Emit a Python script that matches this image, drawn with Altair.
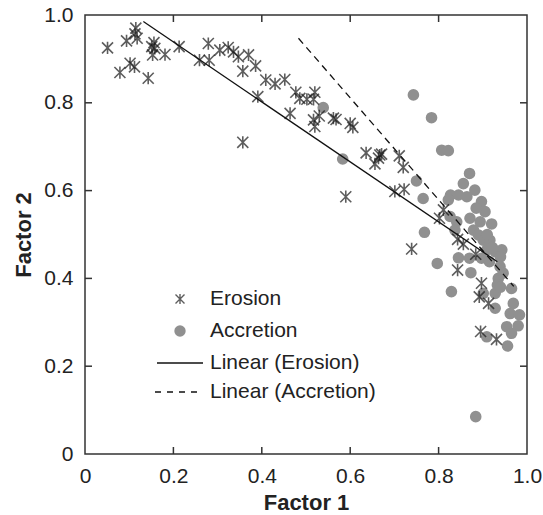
import altair as alt
import pandas as pd

erosion_x = [0.051, 0.079, 0.094, 0.102, 0.112, 0.113, 0.115, 0.118, 0.143, 0.151, 0.156, 0.153, 0.158,
             0.181, 0.213, 0.259, 0.279, 0.281, 0.305, 0.324, 0.336, 0.347, 0.357, 0.370, 0.386, 0.409,
             0.430, 0.452, 0.391, 0.357, 0.464, 0.477, 0.486, 0.502, 0.517, 0.520, 0.517, 0.520, 0.530,
             0.562, 0.568, 0.600, 0.606, 0.636, 0.656, 0.664, 0.667, 0.671, 0.711, 0.720, 0.590, 0.701,
             0.722, 0.811, 0.802, 0.843, 0.856, 0.739, 0.884, 0.843, 0.897, 0.892, 0.913, 0.895, 0.931]
erosion_y = [0.925, 0.869, 0.941, 0.890, 0.882, 0.957, 0.970, 0.947, 0.856, 0.928, 0.937, 0.909, 0.924,
             0.910, 0.928, 0.897, 0.935, 0.897, 0.920, 0.926, 0.916, 0.905, 0.872, 0.909, 0.884, 0.852,
             0.843, 0.853, 0.814, 0.710, 0.776, 0.824, 0.810, 0.808, 0.808, 0.824, 0.761, 0.746, 0.770,
             0.765, 0.762, 0.753, 0.744, 0.686, 0.661, 0.674, 0.681, 0.683, 0.679, 0.653, 0.586, 0.598,
             0.603, 0.556, 0.537, 0.489, 0.478, 0.467, 0.455, 0.419, 0.389, 0.358, 0.343, 0.279, 0.261]

accretion_x = [0.539, 0.583, 0.743, 0.784, 0.807, 0.822, 0.750, 0.765, 0.768, 0.797, 0.829, 0.884,
               0.870, 0.856, 0.882, 0.827, 0.845, 0.864, 0.897, 0.822, 0.905, 0.871, 0.826, 0.841,
               0.894, 0.920, 0.837, 0.879, 0.890, 0.901, 0.916, 0.909, 0.928, 0.943, 0.845, 0.870,
               0.897, 0.915, 0.940, 0.873, 0.939, 0.935, 0.946, 0.965, 0.933, 0.901, 0.928, 0.940,
               0.969, 0.928, 0.962, 0.983, 0.980, 0.954, 0.965, 0.909, 0.956, 0.885, 0.910, 0.922]
accretion_y = [0.789, 0.672, 0.818, 0.766, 0.692, 0.691, 0.622, 0.582, 0.505, 0.434, 0.370, 0.085,
               0.639, 0.616, 0.601, 0.590, 0.590, 0.586, 0.575, 0.579, 0.552, 0.537, 0.541, 0.529,
               0.529, 0.524, 0.510, 0.510, 0.499, 0.487, 0.487, 0.465, 0.461, 0.465, 0.447, 0.446,
               0.446, 0.438, 0.449, 0.413, 0.427, 0.400, 0.412, 0.377, 0.385, 0.366, 0.366, 0.380,
               0.343, 0.332, 0.320, 0.317, 0.292, 0.290, 0.275, 0.267, 0.246, 0.560, 0.500, 0.470]

# trend lines (endpoints)
lin_erosion_x = [0.132, 0.933]
lin_erosion_y = [0.985, 0.438]
lin_accretion_x = [0.483, 0.970]
lin_accretion_y = [0.947, 0.382]

tick_values = [0.2, 0.4, 0.6, 0.8]
axis_values = [0, 0.2, 0.4, 0.6, 0.8, 1.0]
legend_labels = ["Erosion", "Accretion", "Linear (Erosion)", "Linear (Accretion)"]

W, H = 442, 439
FONT = "Liberation Sans"
GRAY = "#909090"
ASTER = "M-0.9,-0.9L0.9,0.9M-0.9,0.9L0.9,-0.9M0,-1L0,1"

ero = pd.DataFrame({"x": erosion_x, "y": erosion_y})
acc = pd.DataFrame({"x": accretion_x, "y": accretion_y})
le = pd.DataFrame({"x": lin_erosion_x, "y": lin_erosion_y})
la = pd.DataFrame({"x": lin_accretion_x, "y": lin_accretion_y})
ticks = pd.DataFrame({"v": tick_values})

lab_expr = "datum.value == 0 ? '0' : format(datum.value, '.1f')"
xs = alt.Scale(domain=[0, 1], nice=False, zero=False)
ys = alt.Scale(domain=[0, 1], nice=False, zero=False)
xax = alt.Axis(values=axis_values, labelExpr=lab_expr, title="Factor 1", grid=False, ticks=False,
               domain=False, labelFont=FONT, labelFontSize=21, labelColor="#222222", labelPadding=11,
               titleFont=FONT, titleFontSize=22, titleFontWeight="bold", titleColor="#222222",
               titlePadding=6, labelFlush=False)
yax = alt.Axis(values=axis_values, labelExpr=lab_expr, title="Factor 2", grid=False, ticks=False,
               domain=False, labelFont=FONT, labelFontSize=21, labelColor="#222222", labelPadding=12,
               titleFont=FONT, titleFontSize=22, titleFontWeight="bold", titleColor="#222222",
               titlePadding=8, labelFlush=False)

base_acc = alt.Chart(acc).mark_point(shape="circle", filled=True, size=135, color=GRAY, opacity=1).encode(
    x=alt.X("x:Q", scale=xs, axis=xax), y=alt.Y("y:Q", scale=ys, axis=yax))
pts_ero = alt.Chart(ero).mark_point(shape=ASTER, size=150, color="#1a1a1a", strokeWidth=1.6, filled=False).encode(
    x=alt.X("x:Q", scale=xs), y=alt.Y("y:Q", scale=ys))
line_e = alt.Chart(le).mark_line(color="#111111", strokeWidth=1.3).encode(
    x=alt.X("x:Q", scale=xs), y=alt.Y("y:Q", scale=ys))
line_a = alt.Chart(la).mark_line(color="#111111", strokeWidth=1.3, strokeDash=[7, 5]).encode(
    x=alt.X("x:Q", scale=xs), y=alt.Y("y:Q", scale=ys))

tk = alt.Chart(ticks)
t_bottom = tk.mark_rule(color="#333333", strokeWidth=1.5).encode(x=alt.X("v:Q", scale=xs), y=alt.value(H), y2=alt.value(H - 7))
t_top = tk.mark_rule(color="#333333", strokeWidth=1.5).encode(x=alt.X("v:Q", scale=xs), y=alt.value(0), y2=alt.value(7))
t_left = tk.mark_rule(color="#333333", strokeWidth=1.5).encode(y=alt.Y("v:Q", scale=ys), x=alt.value(0), x2=alt.value(7))
t_right = tk.mark_rule(color="#333333", strokeWidth=1.5).encode(y=alt.Y("v:Q", scale=ys), x=alt.value(W), x2=alt.value(W - 7))

# legend
leg_y = [284, 316, 348, 377]
lg = pd.DataFrame({"label": legend_labels, "ly": leg_y})
leg_text = alt.Chart(lg).mark_text(align="left", baseline="middle", font=FONT, fontSize=21, color="#222222").encode(
    x=alt.value(125), y=alt.Y("ly:Q", scale=None), text="label:N")
leg_ast = alt.Chart(lg.iloc[[0]]).mark_point(shape=ASTER, size=100, color="#1a1a1a", strokeWidth=1.4).encode(
    x=alt.value(95), y=alt.Y("ly:Q", scale=None))
leg_circ = alt.Chart(lg.iloc[[1]]).mark_point(shape="circle", filled=True, size=130, color=GRAY, opacity=1).encode(
    x=alt.value(95), y=alt.Y("ly:Q", scale=None))
leg_l1 = alt.Chart(lg.iloc[[2]]).mark_rule(color="#111111", strokeWidth=1.3).encode(
    x=alt.value(72), x2=alt.value(118), y=alt.Y("ly:Q", scale=None))
leg_l2 = alt.Chart(lg.iloc[[3]]).mark_rule(color="#111111", strokeWidth=1.3, strokeDash=[6, 6]).encode(
    x=alt.value(70), x2=alt.value(118), y=alt.Y("ly:Q", scale=None))

chart = alt.layer(base_acc, pts_ero, line_e, line_a, t_bottom, t_top, t_left, t_right,
                  leg_text, leg_ast, leg_circ, leg_l1, leg_l2).properties(
    width=W, height=H, autosize=alt.AutoSizeParams(type="none"),
    padding={"left": 85, "top": 15, "right": 16, "bottom": 61},
    background="white"
).configure_view(stroke="#333333", strokeWidth=1.5)

chart.save("out.html", embed_options={"renderer": "svg", "actions": False})
